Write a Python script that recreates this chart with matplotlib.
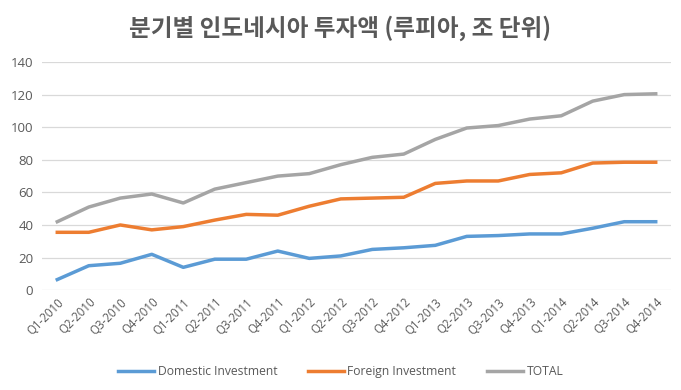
import numpy as np
import matplotlib
matplotlib.use("Agg")
import matplotlib.pyplot as plt

quarters = ["Q1-2010", "Q2-2010", "Q3-2010", "Q4-2010",
            "Q1-2011", "Q2-2011", "Q3-2011", "Q4-2011",
            "Q1-2012", "Q2-2012", "Q3-2012", "Q4-2012",
            "Q1-2013", "Q2-2013", "Q3-2013", "Q4-2013",
            "Q1-2014", "Q2-2014", "Q3-2014", "Q4-2014"]

domestic = [6.5, 15, 16.5, 22, 14, 19, 19, 24, 19.5, 21,
            25, 26, 27.5, 33, 33.5, 34.5, 34.5, 38, 42, 42]
foreign = [35.5, 35.5, 40, 37, 39, 43, 46.5, 46, 51.5, 56,
           56.5, 57, 65.5, 67, 67, 71, 72, 78, 78.5, 78.5]
total = [42, 51, 56.5, 59, 53.5, 62, 66, 70, 71.5, 77,
         81.5, 83.5, 92.5, 99.5, 101, 105, 107, 116, 120, 120.5]

plt.rcParams['font.family'] = ['Open Sans', 'Noto Sans CJK KR', 'DejaVu Sans']

fig = plt.figure(figsize=(6.81, 3.90), dpi=100)
ax = fig.add_axes([0.061, 0.256, 0.925, 0.585])

x = np.arange(len(quarters))
ax.plot(x, domestic, color="#5B9BD5", lw=2.5, label="Domestic Investment")
ax.plot(x, foreign, color="#ED7D31", lw=2.5, label="Foreign Investment")
ax.plot(x, total, color="#A5A5A5", lw=2.5, label="TOTAL")

ax.set_xlim(-0.5, len(quarters) - 0.5)
ax.set_ylim(0, 140)
ax.set_yticks(range(0, 141, 20))
ax.set_xticks(x)
ax.set_xticklabels(quarters, rotation=45, ha="right", rotation_mode="anchor", fontsize=8.3)
ax.tick_params(axis="y", labelsize=9.5, length=0, colors="#595959", pad=6)
ax.tick_params(axis="x", length=0, colors="#595959", pad=4)
ax.grid(axis="y", color="#D9D9D9", lw=0.9)
ax.set_axisbelow(True)
for s in ax.spines.values():
    s.set_visible(False)

fig.text(0.5, 0.928, "분기별 인도네시아 투자액 (루피아, 조 단위)", ha="center", va="center",
         fontsize=17, fontweight="bold", color="#595959", family=["Noto Sans CJK KR"])

fig.legend(loc="center", bbox_to_anchor=(0.5, 0.047), ncol=3, frameon=False,
           fontsize=8.7, labelcolor="#595959", handlelength=3, columnspacing=2.5,
           handletextpad=0.3)

fig.savefig("out.png", dpi=100)
